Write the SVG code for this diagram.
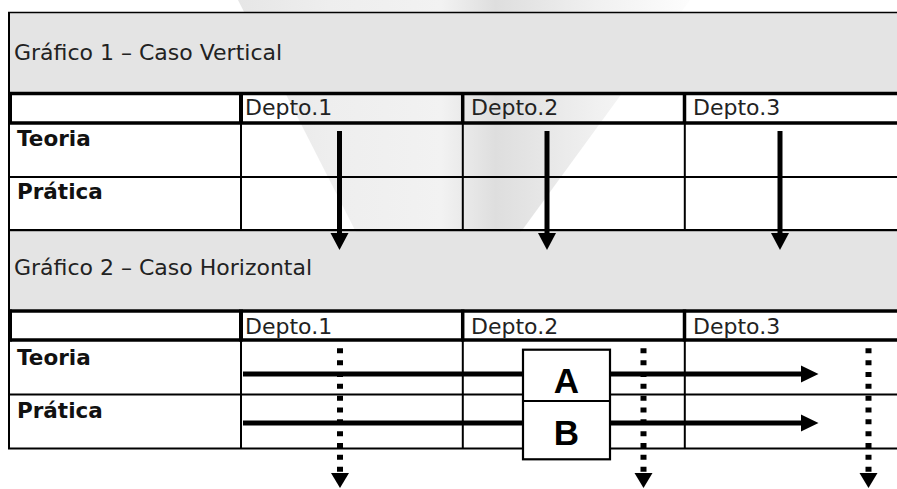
<svg xmlns="http://www.w3.org/2000/svg" width="897" height="489" viewBox="0 0 897 489">
  <defs>
    <linearGradient id="wm" gradientUnits="userSpaceOnUse" x1="238" y1="0" x2="690" y2="0">
      <stop offset="0" stop-color="#e6e6e6"/>
      <stop offset="0.2" stop-color="#eeeeee"/>
      <stop offset="0.45" stop-color="#f2f2f2"/>
      <stop offset="0.57" stop-color="#dedede"/>
      <stop offset="0.8" stop-color="#f1f1f1"/>
      <stop offset="1" stop-color="#fdfdfd"/>
    </linearGradient>
    <style>
      .band { fill: #e4e4e4; stroke: none; }
      .thin { stroke: #000; stroke-width: 2; fill: none; }
      .thick { stroke: #000; stroke-width: 3.5; fill: none; }
      .title { font-family: "DejaVu Sans", Verdana, sans-serif; font-size: 22px; fill: #222; }
      .head { font-family: "DejaVu Sans", Verdana, sans-serif; font-size: 22px; fill: #222; }
      .row { font-family: "DejaVu Sans", Verdana, sans-serif; font-size: 21.5px; font-weight: bold; fill: #111; }
      .big { font-family: "Liberation Sans", Arial, sans-serif; font-size: 35px; font-weight: bold; fill: #000; text-anchor: middle; }
      .shaft { stroke: #000; stroke-width: 5; fill: none; }
      .dots { stroke: #000; stroke-width: 6; fill: none; stroke-dasharray: 5 6.84; }
      .head-tri { fill: #000; stroke: none; }
    </style>
  </defs>

  <rect x="0" y="0" width="897" height="489" fill="#ffffff"/>

  <!-- faint background watermark -->
  <polygon id="watermark" points="238,0 690,0 515,240 360,240" fill="url(#wm)"/>

  <!-- Gráfico 1 -->
  <g id="grafico1">
    <rect class="band" x="9" y="13" width="888" height="79"/>
    <line class="thin" x1="8" y1="12.5" x2="897" y2="12.5" style="stroke-width:1.6"/>
    <line class="thin" x1="9" y1="12" x2="9" y2="231"/>
    <line class="thick" x1="8" y1="93.5" x2="897" y2="93.5"/>
    <line class="thick" x1="8" y1="123" x2="897" y2="123"/>
    <line class="thick" x1="10" y1="92" x2="10" y2="124" style="stroke-width:4"/>
    <line class="thick" x1="241" y1="92" x2="241" y2="124" style="stroke-width:4"/>
    <line class="thick" x1="462.7" y1="92" x2="462.7" y2="124"/>
    <line class="thick" x1="684.5" y1="92" x2="684.5" y2="124"/>
    <line class="thin" x1="241" y1="123" x2="241" y2="231"/>
    <line class="thin" x1="462.8" y1="123" x2="462.8" y2="231"/>
    <line class="thin" x1="684.8" y1="123" x2="684.8" y2="231"/>
    <line class="thin" x1="8" y1="177" x2="897" y2="177"/>
    <line class="thin" x1="8" y1="230.3" x2="897" y2="230.3" style="stroke-width:2.5"/>
    <text class="title" x="14" y="60">Gráfico 1 – Caso Vertical</text>
    <text class="head" x="245" y="115">Depto.1</text>
    <text class="head" x="471" y="115">Depto.2</text>
    <text class="head" x="693" y="115">Depto.3</text>
    <text class="row" x="17" y="146">Teoria</text>
    <text class="row" x="17" y="199">Prática</text>
  </g>

  <!-- Gráfico 2 -->
  <g id="grafico2">
    <rect class="band" x="9" y="231.5" width="888" height="78"/>
    <line class="thin" x1="9" y1="230" x2="9" y2="449"/>
    <line class="thick" x1="8" y1="311" x2="897" y2="311"/>
    <line class="thick" x1="8" y1="340" x2="897" y2="340"/>
    <line class="thick" x1="10" y1="309.5" x2="10" y2="341.5" style="stroke-width:4"/>
    <line class="thick" x1="241" y1="309.5" x2="241" y2="341.5" style="stroke-width:4"/>
    <line class="thick" x1="462.7" y1="309.5" x2="462.7" y2="341.5"/>
    <line class="thick" x1="684.5" y1="309.5" x2="684.5" y2="341.5"/>
    <line class="thin" x1="241" y1="340" x2="241" y2="449"/>
    <line class="thin" x1="462.8" y1="340" x2="462.8" y2="449"/>
    <line class="thin" x1="684.8" y1="340" x2="684.8" y2="449"/>
    <line class="thin" x1="8" y1="394.5" x2="897" y2="394.5"/>
    <line class="thin" x1="8" y1="448.5" x2="897" y2="448.5"/>
    <text class="title" x="14" y="275">Gráfico 2 – Caso Horizontal</text>
    <text class="head" x="245" y="334">Depto.1</text>
    <text class="head" x="471" y="334">Depto.2</text>
    <text class="head" x="693" y="334">Depto.3</text>
    <text class="row" x="17" y="365">Teoria</text>
    <text class="row" x="17" y="418">Prática</text>
  </g>

  <!-- Connectors -->
  <g id="connectors">
    <line class="shaft" x1="339.5" y1="131" x2="339.5" y2="235"/>
    <polygon class="head-tri" points="330.5,233 348.5,233 339.5,250"/>
    <line class="shaft" x1="547" y1="131" x2="547" y2="235"/>
    <polygon class="head-tri" points="538,233 556,233 547,250"/>
    <line class="shaft" x1="780" y1="131" x2="780" y2="235"/>
    <polygon class="head-tri" points="771,233 789,233 780,250"/>

    <line class="shaft" x1="243" y1="374" x2="523" y2="374"/>
    <line class="shaft" x1="610" y1="374" x2="803" y2="374"/>
    <polygon class="head-tri" points="801,365.5 818.5,374 801,382.5"/>
    <line class="shaft" x1="243" y1="423" x2="523" y2="423"/>
    <line class="shaft" x1="610" y1="423" x2="803" y2="423"/>
    <polygon class="head-tri" points="801,414.5 818.5,423 801,431.5"/>

    <line class="dots" x1="340" y1="348.3" x2="340" y2="473"/>
    <polygon class="head-tri" points="331,473 349,473 340,488"/>
    <line class="dots" x1="643.5" y1="348.3" x2="643.5" y2="473"/>
    <polygon class="head-tri" points="634.5,473 652.5,473 643.5,488"/>
    <line class="dots" x1="868.5" y1="348.3" x2="868.5" y2="473"/>
    <polygon class="head-tri" points="859.5,473 877.5,473 868.5,488"/>
  </g>

  <!-- A / B box -->
  <g id="box-ab">
    <rect x="523" y="349.7" width="87" height="109.6" fill="#ffffff" stroke="#000" stroke-width="2.2"/>
    <line x1="523" y1="401" x2="610" y2="401" stroke="#000" stroke-width="2"/>
    <text class="big" x="566.5" y="393">A</text>
    <text class="big" x="566.5" y="445">B</text>
  </g>
</svg>
